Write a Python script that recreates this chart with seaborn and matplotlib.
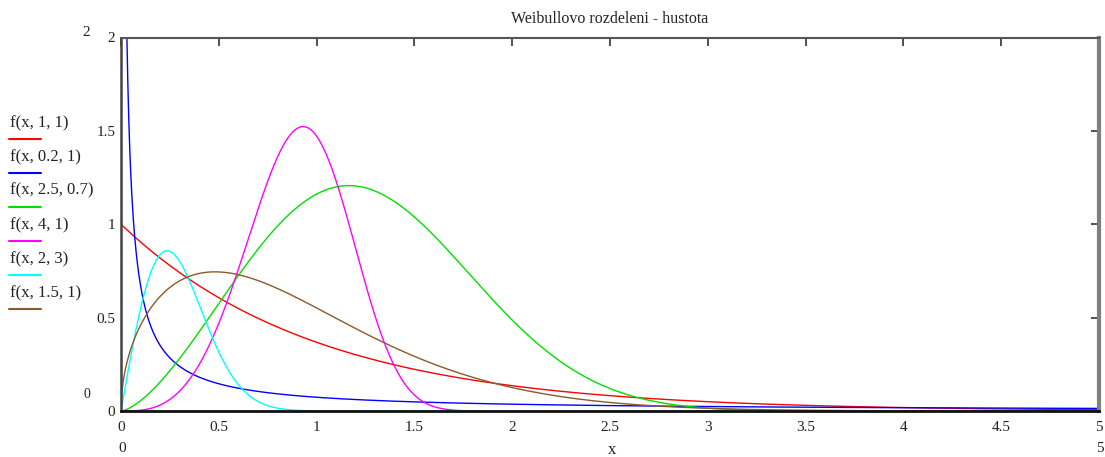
import numpy as np
import pandas as pd
import matplotlib
matplotlib.use("Agg")
import matplotlib.pyplot as plt
from matplotlib.lines import Line2D
import seaborn as sns

# Curve definitions: f(x, k, lam) with shape k and rate lam
labels = ["f(x, 1, 1)", "f(x, 0.2, 1)", "f(x, 2.5, 0.7)", "f(x, 4, 1)", "f(x, 2, 3)", "f(x, 1.5, 1)"]
shape_k = [1.0, 0.2, 2.5, 4.0, 2.0, 1.5]
rate_lam = [1.0, 1.0, 0.7, 1.0, 3.0, 1.0]
colors = ["#ff0000", "#0000ff", "#00e000", "#ff00ff", "#00ffff", "#8b5a2b"]

x_ticks = [0, 0.5, 1, 1.5, 2, 2.5, 3, 3.5, 4, 4.5, 5]
x_tick_labels = ["0", "0.5", "1", "1.5", "2", "2.5", "3", "3.5", "4", "4.5", "5"]
y_ticks = [0, 0.5, 1, 1.5, 2]
y_tick_labels = ["0", "0.5", "1", "1.5", "2"]


def f(x, k, lam):
    with np.errstate(divide="ignore", invalid="ignore"):
        return k * lam * x ** (k - 1) * np.exp(-(lam * x) ** k)


xs = np.linspace(0, 5, 2001)
frames = []
for lab, k, lam in zip(labels, shape_k, rate_lam):
    y = f(xs, k, lam)
    y = np.where(np.isfinite(y), y, np.nan)
    frames.append(pd.DataFrame({"x": xs, "y": y, "curve": lab}))
df = pd.concat(frames, ignore_index=True)

sns.set_theme(style="white")
plt.rcParams["font.family"] = ["Liberation Serif", "DejaVu Serif"]

W, H = 1105, 457
fig = plt.figure(figsize=(W / 100, H / 100), dpi=100)


def fx(px):
    return px / W


def fy(py):
    return 1 - py / H


left, right, top, bottom = 121, 1099, 37.5, 411
ax = fig.add_axes([fx(left), fy(bottom), fx(right) - fx(left), fy(top) - fy(bottom)])

sns.lineplot(data=df, x="x", y="y", hue="curve", palette=dict(zip(labels, colors)),
             hue_order=labels, linewidth=1.0, legend=False, ax=ax, sort=False,
             estimator=None)

ax.set_xlim(0, 5)
ax.set_ylim(0, 2)
ax.set_xticks(x_ticks)
ax.set_xticklabels(x_tick_labels)
ax.set_yticks(y_ticks)
ax.set_yticklabels(y_tick_labels)
ax.set_xlabel("")
ax.set_ylabel("")
ax.tick_params(axis="both", direction="in", length=6, width=1.1, color="#222222",
               top=True, right=True, labelsize=11, labelcolor="#222222")
ax.tick_params(axis="x", pad=7)
ax.tick_params(axis="y", pad=4)

for side, (lw, col) in {"left": (1.8, "#444444"), "top": (1.5, "#555555"),
                        "bottom": (2.0, "#111111"), "right": (3.0, "#808080")}.items():
    ax.spines[side].set_visible(True)
    ax.spines[side].set_linewidth(lw)
    ax.spines[side].set_color(col)

# Title and axis-range annotations
fig.text(fx(610), fy(19), "Weibullovo rozdeleni - hustota", ha="center", va="center",
         fontsize=11.5, color="#222222")
fig.text(fx(86), fy(33), "2", ha="center", va="center", fontsize=11, color="#222222")
fig.text(fx(87), fy(395), "0", ha="center", va="center", fontsize=10, color="#222222")
fig.text(fx(122), fy(449), "0", ha="center", va="center", fontsize=11, color="#222222")
fig.text(fx(1100), fy(449), "5", ha="center", va="center", fontsize=11, color="#222222")
fig.text(fx(612), fy(450), "x", ha="center", va="center", fontsize=12, color="#222222")

# Left-hand legend: label text above a short colour line
text_y = [123, 157, 190, 225, 259, 293]
line_y = [139, 173, 207, 241, 275, 309]
for lab, col, ty, ly in zip(labels, colors, text_y, line_y):
    fig.text(fx(10), fy(ty), lab, ha="left", va="center", fontsize=12, color="#222222")
    fig.add_artist(Line2D([fx(9), fx(41)], [fy(ly), fy(ly)], color=col, linewidth=1.5,
                          transform=fig.transFigure))

fig.savefig("out.png", dpi=100)
